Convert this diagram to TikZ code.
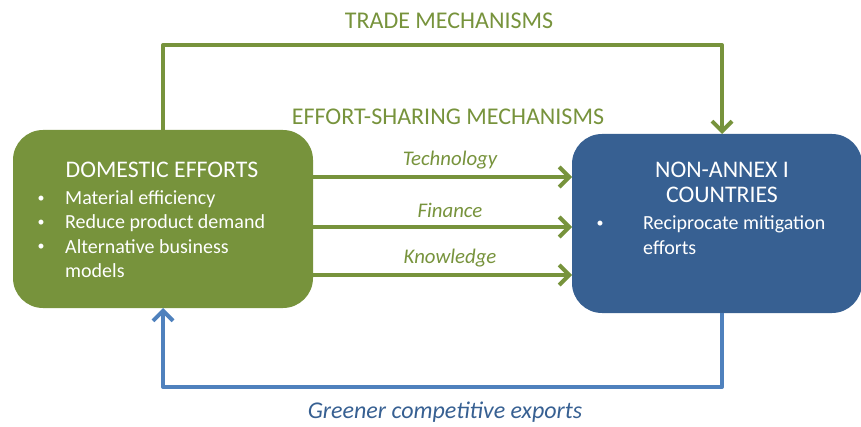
\documentclass[tikz,border=0pt]{standalone}
\usepackage{fontspec}
\setmainfont{Carlito}
\usetikzlibrary{arrows.meta}
\definecolor{olivegreen}{HTML}{77933C}
\definecolor{boxblue}{HTML}{376092}
\definecolor{lineblue}{HTML}{4F81BD}
\definecolor{textblue}{HTML}{376092}
\tikzset{
  gbox/.style={rectangle, rounded corners=30pt, fill=olivegreen, draw=none, outer sep=0pt},
  bbox/.style={rectangle, rounded corners=30pt, fill=boxblue, draw=none, outer sep=0pt},
  head/.style={text=white, font=\fontsize{23.8}{26}\selectfont, inner sep=0pt},
  btxt/.style={text=white, font=\fontsize{20}{24}\selectfont, inner sep=0pt, anchor=west},
  bdot/.style={text=white, font=\fontsize{14}{16}\selectfont, inner sep=0pt},
  glabel/.style={text=olivegreen, font=\fontsize{24}{26}\selectfont, inner sep=0pt},
  ilabel/.style={text=olivegreen, font=\itshape\fontsize{20.8}{22}\selectfont, inner sep=0pt},
  garrow/.style={draw=olivegreen, line width=4pt, line join=round, -{Straight Barb[length=10pt,width=20pt]}},
  barrow/.style={draw=lineblue, line width=4pt, line join=round, -{Straight Barb[length=10pt,width=20pt]}},
}
\begin{document}
\begin{tikzpicture}[x=1pt,y=-1pt]
\useasboundingbox (0,0) rectangle (861,427);
% boxes
\node[gbox, minimum width=300pt, minimum height=178pt] (dom) at (163,219) {};
\node[bbox, minimum width=290pt, minimum height=179pt] (non) at (717,223.5) {};
% domestic text
\node[head] (domh) at (162,170) {DOMESTIC EFFORTS};
\node[bdot] (db1) at (41,199) {•};
\node[btxt] (dt1) at (65,199) {Material efficiency};
\node[bdot] (db2) at (41,223) {•};
\node[btxt] (dt2) at (65,223) {Reduce product demand};
\node[bdot] (db3) at (41,247) {•};
\node[btxt] (dt3) at (65,247) {Alternative business};
\node[btxt] (dt4) at (65,271) {models};
% non-annex text
\node[head] (nonh1) at (722,170) {NON-ANNEX I};
\node[head] (nonh2) at (722,195) {COUNTRIES};
\node[bdot] (nb1) at (600,224) {•};
\node[btxt] (nt1) at (643,224) {Reciprocate mitigation};
\node[btxt] (nt2) at (643,248) {efforts};
% coordinates
\coordinate (tr) at (722,45);
\coordinate (trl) at (163,45);
\coordinate (ex) at (722,387);
\coordinate (t1) at (440,177);
\coordinate (t2) at (440,227);
\coordinate (t3) at (440,275);
% trade
\draw[garrow] (dom.north) -- (trl) -- (tr) -- (tr |- non.north);
\node[glabel] (trade) at (449,21) {TRADE MECHANISMS};
% effort sharing
\node[glabel] (effort) at (448,117) {EFFORT-SHARING MECHANISMS};
\draw[garrow] (dom.east |- t1) -- (non.west |- t1);
\draw[garrow] (dom.east |- t2) -- (non.west |- t2);
\draw[garrow] (dom.east |- t3) -- (non.west |- t3);
\node[ilabel] (tech) at (450,160) {Technology};
\node[ilabel] (fin) at (450,210) {Finance};
\node[ilabel] (know) at (450,258) {Knowledge};
% exports
\draw[barrow] (ex |- non.south) -- (ex) -| (dom.south);
\node[text=textblue, font=\itshape\fontsize{24}{26}\selectfont, inner sep=0pt] (exp) at (445,412) {Greener competitive exports};
\end{tikzpicture}
\end{document}
